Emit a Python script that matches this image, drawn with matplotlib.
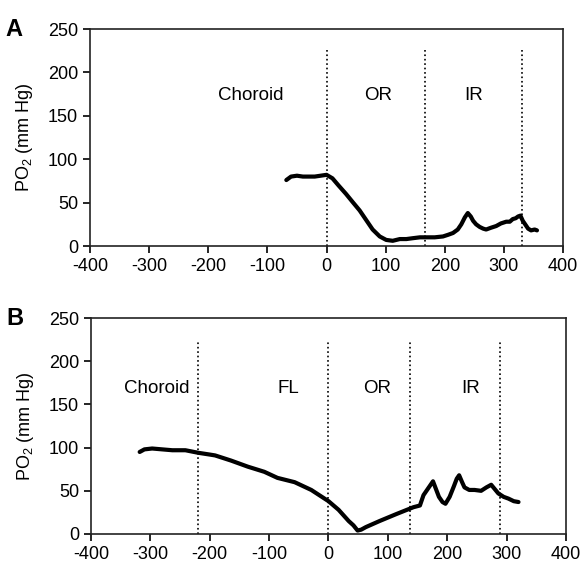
import numpy as np
import matplotlib
matplotlib.use('Agg')
import matplotlib.pyplot as plt

plt.rcParams['font.family'] = ['Liberation Sans', 'DejaVu Sans']
plt.rcParams['axes.unicode_minus'] = False
plt.rcParams['mathtext.fontset'] = 'custom'
plt.rcParams['mathtext.rm'] = 'Liberation Sans'

# panel A - retina profile (depth in um, PO2 in mm Hg)
a_depth = [-68, -60, -50, -40, -30, -20, -10, 0, 10, 20, 33, 45, 56, 67, 78, 90,
           101, 112, 124, 135, 146, 158, 169, 183, 197, 206, 214, 222, 228, 234,
           239, 244, 248, 253, 259, 265, 270, 278, 287, 295, 304, 310, 315, 320,
           324, 328, 332, 337, 341, 346, 352, 356]
a_po2 = [76, 80, 81, 80, 80, 80, 81, 82, 78, 70, 60, 50, 41, 30, 19, 11,
         7, 6, 8, 8, 9, 10, 10, 10, 11, 13, 15, 19, 25, 33,
         38, 34, 29, 25, 22, 20, 19, 21, 23, 26, 28, 28, 31, 32,
         34, 35, 29, 24, 20, 18, 19, 18]
a_bounds = [0, 167, 330]
a_labels = ['Choroid', 'OR', 'IR']
a_label_x = [-129, 88, 248]

# panel B
b_depth = [-318, -310, -297, -280, -263, -241, -219, -200, -191, -164, -136, -108,
           -86, -57, -29, 0, 17, 34, 42, 49, 55, 63, 86, 114, 143, 154, 160, 168,
           176, 181, 186, 192, 197, 204, 211, 216, 220, 225, 229, 237, 246, 257,
           266, 274, 280, 286, 295, 303, 312, 320]
b_po2 = [95, 98, 99, 98, 97, 97, 94, 92, 91, 85, 78, 72,
         65, 60, 51, 38, 28, 15, 10, 4, 5, 8, 15, 23, 31, 33, 45, 53,
         61, 52, 43, 37, 35, 43, 55, 64, 68, 60, 54, 51, 51, 50,
         54, 57, 52, 47, 43, 41, 38, 37]
b_bounds = [-220, 0, 138, 288]
b_labels = ['Choroid', 'FL', 'OR', 'IR']
b_label_x = [-290, -67, 82, 240]

fig = plt.figure(figsize=(5.81, 5.65), dpi=100)
axA = fig.add_axes([0.155, 0.5646, 0.814, 0.384])
axB = fig.add_axes([0.1566, 0.0549, 0.8176, 0.382])

def draw_panel(ax, x, y, bounds, labels, label_x, label_y, top, letter):
    ax.plot(x, y, color='black', lw=3.0, solid_capstyle='round')
    for b in bounds:
        ax.plot([b, b], [0, top], color='black', ls=':', lw=1.2)
    for t, lx in zip(labels, label_x):
        ax.text(lx, label_y, t, ha='center', va='center', fontsize=13.5)
    ax.set_xlim(-400, 400)
    ax.set_ylim(0, 250)
    ax.set_xticks(np.arange(-400, 401, 100))
    ax.set_yticks(np.arange(0, 251, 50))
    ax.tick_params(direction='out', labelsize=13, length=5, width=1.2)
    for s in ax.spines.values():
        s.set_linewidth(1.2)
        s.set_color('#222222')
    ax.set_ylabel(r'PO$_{\mathregular{2}}$ (mm Hg)', fontsize=13, labelpad=9)
    ax.text(-0.16, 1.0, letter, transform=ax.transAxes, fontsize=17,
            fontweight='bold', ha='center', va='center')

draw_panel(axA, a_depth, a_po2, a_bounds, a_labels, a_label_x, 173, 226, 'A')
draw_panel(axB, b_depth, b_po2, b_bounds, b_labels, b_label_x, 169, 224, 'B')

fig.savefig('out.png', dpi=100)
